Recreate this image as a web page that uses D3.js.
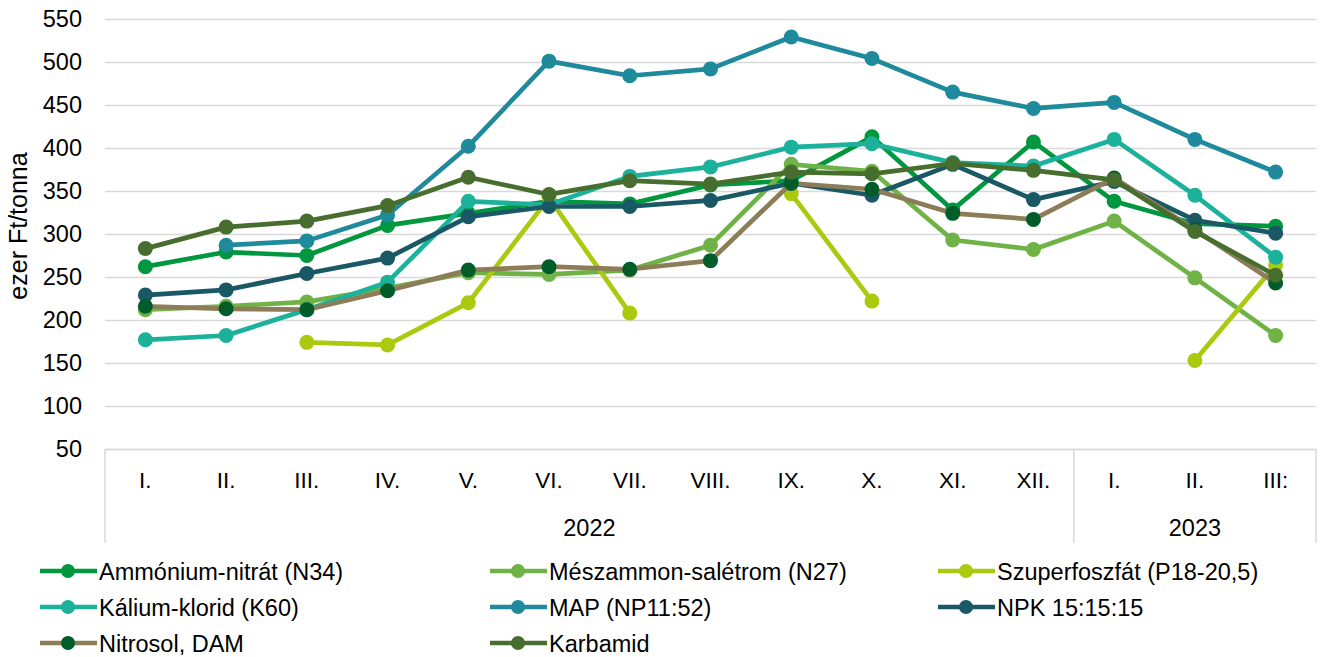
<!DOCTYPE html>
<html>
<head>
<meta charset="utf-8">
<script src="https://cdn.jsdelivr.net/npm/d3@7"></script>
<style>
  html, body { margin: 0; padding: 0; background: #fff; }
  svg { display: block; font-family: "Liberation Sans", Arial, sans-serif; }
</style>
</head>
<body>
<svg id="chart" width="1320" height="657"></svg>
<script>
// ---- Data ----
const categories = ["I.", "II.", "III.", "IV.", "V.", "VI.", "VII.", "VIII.", "IX.", "X.", "XI.", "XII.", "I.", "II.", "III:"];
const yearLabels = ["2022", "2023"];
const yearSpans = [12, 3];
const yTicks = [50, 100, 150, 200, 250, 300, 350, 400, 450, 500, 550];

const seriesNames = ["Ammónium-nitrát (N34)", "Mészammon-salétrom (N27)", "Szuperfoszfát (P18-20,5)",
  "Kálium-klorid (K60)", "MAP (NP11:52)", "NPK 15:15:15", "Nitrosol, DAM", "Karbamid"];

const ammoniumNitrat = [262, 279, 275, 310, 324, 338, 335, 357, 362, 413, 328, 407, 338, 312, 309];
const meszammonSaletrom = [212, 216, 221, 237, 255, 253, 258, 287, 381, 373, 293, 282, 315, 249, 182];
const szuperfoszfat = [null, null, 174, 171, 220, 342, 208, null, 347, 222, null, null, null, 153, 264];
const kaliumKlorid = [177, 182, 212, 244, 338, 334, 367, 378, 401, 405, 383, 379, 410, 345, 273];
const mapNP = [null, 287, 292, 322, 402, 501, 484, 492, 529, 504, 465, 446, 453, 410, 372];
const npk = [229, 235, 254, 272, 320, 332, 332, 339, 359, 345, 381, 340, 361, 316, 301];
const nitrosolDam = [216, 213, 212, 234, 258, 262, 259, 269, 359, 352, 324, 317, 365, 305, 243];
const karbamid = [283, 308, 315, 333, 366, 346, 362, 358, 372, 370, 382, 374, 363, 303, 252];

const seriesValues = [ammoniumNitrat, meszammonSaletrom, szuperfoszfat, kaliumKlorid, mapNP, npk, nitrosolDam, karbamid];
const lineColors = ["#00973F", "#6FB246", "#AAC90F", "#1BB19A", "#1F8A9C", "#1A5866", "#8C7C58", "#476E2E"];
const markerColors = ["#00973F", "#6FB246", "#AAC90F", "#1BB19A", "#1F8A9C", "#1A5866", "#005C29", "#476E2E"];

// ---- Layout ----
const svg = d3.select("#chart");
const pLeft = 105, pRight = 1316, pTop = 19, pBottom = 449;
const FONT = "Liberation Sans, Arial, sans-serif";
const x = d3.scaleBand().domain(d3.range(categories.length)).range([pLeft, pRight]);
const y = d3.scaleLinear().domain([50, 550]).range([pBottom, pTop]);
const cx = i => x(i) + x.bandwidth() / 2;

// gridlines + y axis
const yAxis = d3.axisLeft(y).tickValues(yTicks).tickSize(-(pRight - pLeft)).tickPadding(23);
const gy = svg.append("g").attr("transform", `translate(${pLeft},0)`).call(yAxis);
gy.select(".domain").remove();
gy.selectAll(".tick line").attr("stroke", "#D9D9D9").attr("stroke-width", 1.5);
gy.selectAll(".tick text").attr("fill", "#000").attr("font-size", 23.5).attr("font-family", FONT);

// x axis: base line + category labels
const xAxis = d3.axisBottom(x).tickFormat(i => categories[i]).tickSize(0).tickPadding(23);
const gx = svg.append("g").attr("transform", `translate(0,${pBottom})`).call(xAxis);
gx.select(".domain").attr("stroke", "#D9D9D9").attr("stroke-width", 1.5);
gx.selectAll(".tick text").attr("fill", "#000").attr("font-size", 22.5).attr("font-family", FONT);

// year grouping box
const boxBottom = 543;
let acc = 0;
const boundaries = [0];
yearSpans.forEach(s => { acc += s; boundaries.push(acc); });
boundaries.forEach(b => {
  const bx = b < categories.length ? x(b) : pRight;
  svg.append("line").attr("x1", bx).attr("x2", bx).attr("y1", pBottom).attr("y2", boxBottom)
    .attr("stroke", "#D9D9D9").attr("stroke-width", 1.5);
});
yearLabels.forEach((lab, k) => {
  const s = boundaries[k], e = boundaries[k + 1];
  const mx = (x(s) + (e < categories.length ? x(e) : pRight)) / 2;
  svg.append("text").attr("x", mx).attr("y", 536).attr("text-anchor", "middle")
    .attr("font-size", 23.5).text(lab);
});

// y title
svg.append("text").attr("transform", "translate(27,226) rotate(-90)").attr("text-anchor", "middle")
  .attr("font-size", 25).text("ezer Ft/tonna");

// ---- Series ----
const line = d3.line().defined(d => d != null).x((d, i) => cx(i)).y(d => y(d));
seriesValues.forEach((vals, k) => {
  const g = svg.append("g");
  g.append("path").datum(vals).attr("d", line).attr("fill", "none")
    .attr("stroke", lineColors[k]).attr("stroke-width", 4.7).attr("stroke-linejoin", "round");
  g.selectAll("circle").data(vals.map((v, i) => ({ v, i })).filter(d => d.v != null))
    .join("circle").attr("cx", d => cx(d.i)).attr("cy", d => y(d.v)).attr("r", 7.5)
    .attr("fill", markerColors[k]);
});

// ---- Legend ----
const legCols = [40, 490, 938];
const legRows = [571, 607, 643];
seriesNames.forEach((name, k) => {
  const lx = legCols[k % 3], ly = legRows[Math.floor(k / 3)];
  const g = svg.append("g").attr("transform", `translate(${lx},${ly})`);
  g.append("line").attr("x1", 0).attr("x2", 57).attr("y1", 0).attr("y2", 0)
    .attr("stroke", lineColors[k]).attr("stroke-width", 4.7);
  g.append("circle").attr("cx", 28).attr("cy", 0).attr("r", 7).attr("fill", markerColors[k]);
  g.append("text").attr("x", 59).attr("y", 9).attr("font-size", 23.5).text(name);
});
</script>
</body>
</html>
